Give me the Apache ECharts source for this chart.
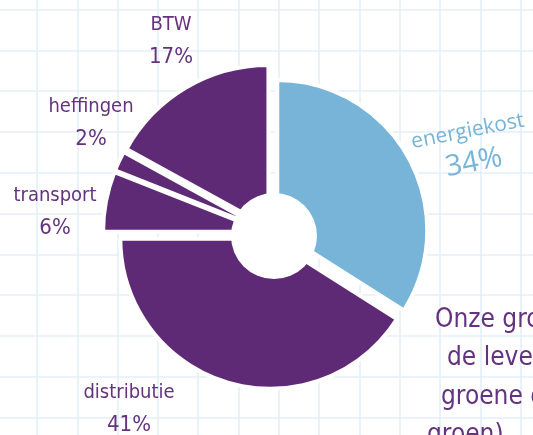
<!DOCTYPE html>
<html>
<head>
<meta charset="utf-8">
<script src="https://cdn.jsdelivr.net/npm/echarts@6/dist/echarts.min.js"></script>
<style>
  html, body { margin: 0; padding: 0; background: #fff; }
  #main { width: 533px; height: 435px; }
</style>
</head>
<body>
<div id="main"></div>
<script>
// kostenposten van de energierekening
var names = ['energiekost', 'distributie', 'transport', 'heffingen', 'BTW'];
var values = [34, 41, 6, 2, 17];
// welke posten iets verder naar buiten steken
var bigSlices = ['transport', 'heffingen', 'BTW'];
var noteLines = ['Onze groene', 'de levering', 'groene energie', 'groen)'];

var purple = '#5e2a76';
var blue = '#77b4d7';
var textPurple = '#64327e';
var font = '"Liberation Sans Narrow", "DejaVu Sans Condensed", "Noto Sans", sans-serif';

// label midden per post (px)
var labelSpots = [
    { x: 471, y: 148, rotate: 11 },
    { x: 129, y: 409 },
    { x: 55, y: 212 },
    { x: 91, y: 123 },
    { x: 171, y: 41 }
];

function buildData(big) {
    return names.map(function (n, i) {
        var mine = (bigSlices.indexOf(n) >= 0) === big;
        var col = n === 'energiekost' ? blue : purple;
        return {
            name: n,
            value: values[i],
            selected: mine,
            itemStyle: mine ? { color: col, borderColor: '#fff', borderWidth: 4 } : { color: 'rgba(0,0,0,0)', borderWidth: 0 }
        };
    });
}

function pieSeries(big, r, off) {
    return {
        type: 'pie',
        center: [272, 233],
        radius: [0, r],
        startAngle: 90,
        clockwise: true,
        selectedMode: 'multiple',
        selectedOffset: off,
        animation: false,
        silent: true,
        label: { show: false },
        labelLine: { show: false },
        emphasis: { disabled: true },
        data: buildData(big)
    };
}

var total = values.reduce(function (a, b) { return a + b; }, 0);

// de labels bij de stukken
var labelTexts = names.map(function (n, i) {
    var s = labelSpots[i];
    var pct = Math.round(values[i] / total * 100) + '%';
    var isBlue = n === 'energiekost';
    return {
        type: 'text',
        z: 100,
        x: s.x,
        y: s.y,
        rotation: (s.rotate || 0) * Math.PI / 180,
        style: {
            text: '{n|' + n + '}\n{p|' + pct + '}',
            align: 'center',
            verticalAlign: 'middle',
            rich: isBlue ? {
                n: { fontFamily: '"Open Sans", sans-serif', fontSize: 21, lineHeight: 30, fill: blue },
                p: { fontFamily: '"Open Sans", sans-serif', fontSize: 29, lineHeight: 34, fill: blue }
            } : {
                n: { fontFamily: font, fontSize: 20, lineHeight: 33, fill: textPurple },
                p: { fontFamily: font, fontSize: 22, lineHeight: 33, fill: textPurple }
            }
        }
    };
});

var noteX = [435, 447, 441, 427];
var noteTexts = noteLines.map(function (t, i) {
    return {
        type: 'text',
        z: 100,
        x: noteX[i],
        y: 333 + i * 38.5,
        style: { text: t, font: '26px ' + font, fill: textPurple, verticalAlign: 'bottom' }
    };
});

var chart = echarts.init(document.getElementById('main'));
chart.setOption({
    backgroundColor: '#fff',
    animation: false,
    // ruitjespapier achter de taart
    grid: { left: -3.3, top: -31.3, right: -27.9, bottom: -23.3, outerBoundsMode: 'none', containLabel: false },
    xAxis: {
        type: 'value', min: 0, max: 14, interval: 1,
        axisLine: { show: false }, axisTick: { show: false }, axisLabel: { show: false },
        splitLine: { lineStyle: { color: '#e4eef8', width: 1.6 } }
    },
    yAxis: {
        type: 'value', min: 0, max: 12, interval: 1,
        axisLine: { show: false }, axisTick: { show: false }, axisLabel: { show: false },
        splitLine: { lineStyle: { color: '#e4eef8', width: 1.6 } }
    },
    series: [
        pieSeries(false, 150, 6),
        pieSeries(true, 162, 7)
    ],
    graphic: [
        { type: 'circle', z: 100, shape: { cx: 274, cy: 236, r: 43 }, style: { fill: '#fff' } }
    ].concat(labelTexts, noteTexts)
});
</script>
</body>
</html>
